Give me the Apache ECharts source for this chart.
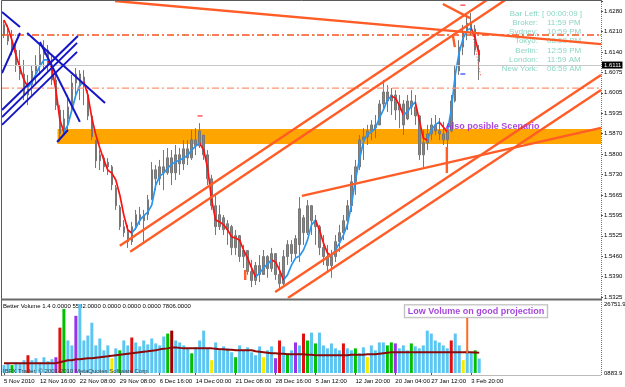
<!DOCTYPE html>
<html><head><meta charset="utf-8">
<script src="https://cdn.jsdelivr.net/npm/echarts@6/dist/echarts.min.js"></script>
<style>html,body{margin:0;padding:0;background:#fff}#c{width:625px;height:387px}</style>
</head><body><div id="c"></div>
<script>
// ---------- data ----------
const SLOTS = 150;
const xLabelIndex = [0, 9, 19, 29, 39, 48, 58, 68, 78, 88, 98, 107, 117];
const xLabelText = ['5 Nov 2010', '12 Nov 16:00', '22 Nov 08:00', '29 Nov 08:00', '6 Dec 16:00', '14 Dec 00:00', '21 Dec 08:00', '28 Dec 16:00', '5 Jan 12:00', '12 Jan 20:00', '20 Jan 04:00', '27 Jan 12:00', '3 Feb 20:00'];
const priceMin = 1.5325, priceMax = 1.6314, priceStep = 0.0955 / 14;
const priceTickLabels = ['1.5325', '1.5390', '1.5460', '1.5525', '1.5595', '1.5665', '1.5730', '1.5800', '1.5870', '1.5935', '1.6005', '1.6075', '1.6140', '1.6210', '1.6280'];
const lastPrice = 1.6111;

const opens = [1.6235,1.6200,1.6180,1.6150,1.6100,1.6070,1.6000,1.6035,1.6080,1.6100,1.6135,1.6150,1.6100,1.6050,1.5950,1.5870,1.5920,1.5960,1.6040,1.6070,
1.6030,1.6000,1.5930,1.5849,1.5780,1.5790,1.5760,1.5760,1.5690,1.5625,1.5560,1.5545,1.5510,1.5560,1.5600,1.5580,1.5600,1.5650,1.5750,1.5720,
1.5760,1.5740,1.5790,1.5740,1.5800,1.5770,1.5820,1.5790,1.5850,1.5830,1.5866,1.5800,1.5720,1.5630,1.5560,1.5590,1.5550,1.5560,1.5490,1.5530,
1.5460,1.5480,1.5410,1.5380,1.5430,1.5400,1.5460,1.5420,1.5470,1.5400,1.5370,1.5460,1.5500,1.5470,1.5500,1.5590,1.5540,1.5630,1.5580,1.5560,
1.5490,1.5460,1.5430,1.5460,1.5510,1.5540,1.5580,1.5630,1.5710,1.5760,1.5850,1.5860,1.5880,1.5900,1.5900,1.5970,1.6010,1.5980,1.6000,1.5950,
1.5970,1.5920,1.5980,1.5960,1.5930,1.5800,1.5840,1.5870,1.5900,1.5880,1.5870,1.5850,1.5880,1.5980,1.6080,1.6160,1.6210,1.6240,1.6220,1.6150];
const closes = [1.6200,1.6180,1.6150,1.6100,1.6070,1.6000,1.6035,1.6080,1.6100,1.6135,1.6150,1.6100,1.6050,1.5966,1.5870,1.5920,1.5960,1.6040,1.6070,1.6030,
1.6060,1.5930,1.5860,1.5780,1.5800,1.5760,1.5775,1.5700,1.5630,1.5560,1.5540,1.5510,1.5560,1.5600,1.5580,1.5600,1.5650,1.5750,1.5720,1.5760,
1.5740,1.5790,1.5740,1.5800,1.5770,1.5820,1.5790,1.5850,1.5830,1.5880,1.5800,1.5720,1.5630,1.5560,1.5600,1.5550,1.5570,1.5490,1.5530,1.5460,
1.5480,1.5410,1.5380,1.5430,1.5400,1.5460,1.5420,1.5470,1.5400,1.5370,1.5460,1.5500,1.5470,1.5520,1.5620,1.5540,1.5630,1.5580,1.5560,1.5490,
1.5460,1.5430,1.5460,1.5510,1.5540,1.5580,1.5630,1.5710,1.5760,1.5850,1.5860,1.5880,1.5900,1.5890,1.5970,1.6010,1.5980,1.6000,1.5950,1.5970,
1.5900,1.5980,1.5960,1.5930,1.5800,1.5840,1.5870,1.5900,1.5880,1.5870,1.5850,1.5880,1.5980,1.6080,1.6160,1.6210,1.6240,1.6220,1.6150,1.6111];
const lows = [1.6190,1.6167,1.6133,1.6077,1.6050,1.5983,1.5966,1.6000,1.6033,1.6067,1.6083,1.6077,1.6033,1.5950,1.5843,1.5866,1.5883,1.5950,1.6000,1.5983,
1.5966,1.5916,1.5849,1.5756,1.5749,1.5743,1.5733,1.5682,1.5616,1.5549,1.5526,1.5489,1.5499,1.5549,1.5566,1.5509,1.5582,1.5649,1.5682,1.5699,
1.5682,1.5733,1.5699,1.5716,1.5733,1.5749,1.5766,1.5783,1.5799,1.5823,1.5783,1.5699,1.5616,1.5532,1.5549,1.5532,1.5499,1.5465,1.5465,1.5442,
1.5422,1.5399,1.5358,1.5365,1.5375,1.5399,1.5389,1.5409,1.5382,1.5348,1.5365,1.5432,1.5442,1.5455,1.5442,1.5499,1.5532,1.5532,1.5499,1.5465,
1.5432,1.5409,1.5389,1.5442,1.5475,1.5515,1.5549,1.5609,1.5666,1.5749,1.5783,1.5833,1.5849,1.5856,1.5900,1.5950,1.5943,1.5933,1.5916,1.5889,
1.5866,1.5916,1.5933,1.5900,1.5783,1.5759,1.5816,1.5849,1.5866,1.5849,1.5833,1.5823,1.5875,1.5975,1.6067,1.6133,1.6183,1.6200,1.6133,1.6050];
const highs = [1.6250,1.6234,1.6217,1.6177,1.6150,1.6117,1.6067,1.6100,1.6133,1.6167,1.6183,1.6167,1.6133,1.6067,1.5966,1.5950,1.6000,1.6067,1.6090,1.6083,
1.6083,1.6016,1.5933,1.5849,1.5816,1.5799,1.5789,1.5766,1.5699,1.5632,1.5582,1.5566,1.5576,1.5616,1.5626,1.5616,1.5666,1.5776,1.5766,1.5783,
1.5816,1.5823,1.5816,1.5833,1.5823,1.5849,1.5849,1.5883,1.5889,1.5906,1.5866,1.5816,1.5733,1.5666,1.5632,1.5599,1.5582,1.5566,1.5549,1.5532,
1.5499,1.5482,1.5449,1.5442,1.5465,1.5482,1.5465,1.5489,1.5472,1.5442,1.5482,1.5515,1.5515,1.5532,1.5659,1.5599,1.5649,1.5632,1.5599,1.5566,
1.5532,1.5499,1.5482,1.5532,1.5566,1.5599,1.5649,1.5733,1.5783,1.5866,1.5889,1.5900,1.5916,1.5933,1.5983,1.6050,1.6033,1.6023,1.6016,1.6000,
1.5983,1.6000,1.6016,1.6000,1.5933,1.5883,1.5900,1.5923,1.5933,1.5923,1.5910,1.5900,1.6000,1.6100,1.6183,1.6234,1.6267,1.6274,1.6234,1.6167];
const maValues = [1.6250,1.6223,1.6183,1.6133,1.6090,1.6050,1.6026,1.6043,1.6070,1.6097,1.6117,1.6117,1.6090,1.6016,1.5916,1.5876,1.5900,1.5950,1.6000,1.6033,
1.6043,1.6000,1.5923,1.5866,1.5823,1.5783,1.5749,1.5739,1.5716,1.5666,1.5599,1.5549,1.5539,1.5555,1.5582,1.5596,1.5609,1.5632,1.5699,1.5729,
1.5739,1.5756,1.5769,1.5776,1.5783,1.5789,1.5799,1.5816,1.5829,1.5839,1.5816,1.5756,1.5649,1.5582,1.5576,1.5566,1.5549,1.5526,1.5522,1.5515,
1.5482,1.5455,1.5422,1.5392,1.5405,1.5422,1.5435,1.5449,1.5442,1.5415,1.5382,1.5399,1.5432,1.5455,1.5462,1.5482,1.5515,1.5566,1.5582,1.5549,
1.5505,1.5472,1.5462,1.5482,1.5505,1.5532,1.5566,1.5632,1.5716,1.5783,1.5843,1.5869,1.5876,1.5889,1.5923,1.5950,1.5983,1.5996,1.5990,1.5966,
1.5933,1.5943,1.5963,1.5976,1.5916,1.5856,1.5849,1.5883,1.5900,1.5910,1.5893,1.5876,1.5950,1.6067,1.6143,1.6190,1.6217,1.6223,1.6190,1.6133];

const volMax = 26751.9;
const volTickLabels = ['0883.9', '26751.9'];
const volumes = [3060,3820,3060,4200,3440,4970,6880,4970,5730,4200,6110,4590,5350,6110,17580,24840,12610,10700,22170,26750,
12610,14520,19490,10700,13380,8790,10700,5730,9560,8790,12610,10700,13760,11850,10320,12610,11080,13380,11470,10700,
14140,15290,16430,12610,11850,10700,9560,7640,9940,12610,16430,9560,4970,11850,8790,10320,9560,8030,6110,10700,
8790,9940,8030,6880,10320,6110,8790,10320,5730,12610,10320,7640,8790,11850,10700,15290,12610,15670,11470,15670,
10700,9560,11470,9560,8790,11470,9560,8790,9560,7640,9940,6110,10700,8790,11850,11850,10700,11850,11470,9560,
10700,8790,11470,10320,9560,10700,16430,15290,12610,11850,10700,9560,12610,15290,10700,4970,8790,8030,8790,5582];
const volTypes = ('bbgbbbrbbbbbbprgbbpb' + 'bbbbbbbybgbbrbbbbbbb' + 'bgdbbbbgbbbbybbbbbgb' +
                  'bbbbbybbprbgbpbrgbgb' + 'bbbbbrbbgbbybbbbggpb' + 'bbgbbbbbbbbbrbbybbgb').split('');
const volMA = [3820,3820,3820,3820,3820,3820,3820,3820,3820,3820,3820,3820,3820,3820,4200,4580,4970,4970,5350,5350,
5540,5730,5730,5920,6110,6300,6490,6690,6880,7070,7260,7450,7640,7830,8020,8210,8400,8600,8790,9170,
9360,9550,9930,9930,9740,9550,9550,9550,9550,9550,9550,9550,9550,9360,9170,9170,8980,8980,8790,8790,
8790,8790,8790,8400,8210,8020,7830,7640,7640,7450,7450,7260,7260,7260,7260,7260,7070,7070,6880,6880,
6880,6880,6880,6880,6880,6880,6880,7070,7070,7070,7070,7260,7260,7260,7450,7640,7830,8020,8020,8020,
8020,8020,8020,8020,8020,8020,8020,8020,8020,8020,8020,8020,8020,8020,8020,8020,8020,8020,7950,7806];

// drawn objects, in (bar index, price)
const supportZone = [[13.4, 1.5886, 149.5, 1.5836]];
const redDashDotLevel = 1.6200;
const salmonDashDotLevel = 1.6023;
const orangeLines = [
  [[27.8, 1.6314], [149.5, 1.6170]],
  [[29.0, 1.5496], [124.7, 1.6351]],
  [[31.6, 1.5476], [128.5, 1.6344]],
  [[67.9, 1.5342], [149.5, 1.6067]],
  [[71.1, 1.5322], [149.5, 1.6017]],
  [[74.6, 1.5663], [149.5, 1.5890]],
  [[109.9, 1.6304], [116.7, 1.6257]],
  [[112.4, 1.6200], [112.9, 1.6160]],
  [[110.9, 1.5826], [110.9, 1.5739]],
  [[60.4, 1.5415], [60.4, 1.5382]]
];
const blueLines = [
  [[-0.5, 1.6277], [4.0, 1.6227]],
  [[-0.5, 1.6073], [4.0, 1.6207]],
  [[5.8, 1.6207], [25.3, 1.5973]],
  [[9.0, 1.6177], [19.0, 1.5910]],
  [[-0.5, 1.5950], [18.5, 1.6197]],
  [[-0.5, 1.5926], [18.3, 1.6174]],
  [[-0.5, 1.5900], [18.3, 1.6144]],
  [[13.3, 1.5843], [16.0, 1.5883]]
];
const zigzagDotted = [[117.2, 1.6217], [119.4, 1.6060]];
const fractalsUp = [[49.1, 1.5930], [114.9, 1.6300]];
const fractalsDown = [[114.9, 1.6070]];
const scenarioNote = [[110.4, 1.5896]];
const volumeNote = [[118.2, 23900]];
const volumeArrow = [[116.0, 21400], [116.0, 7640]];

const infoLabels = ['Bar Left:', 'Broker:', 'Sydney:', 'Tokyo:', 'Berlin:', 'London:', 'New York:'];
const infoValues = ['[ 00:00:09 ]', '11:59 PM', '10:59 PM', '08:59 PM', '12:59 PM', '11:59 AM', '06:59 AM'];

// ---------- chart ----------
const FONT = 'Liberation Sans, Arial, sans-serif';
const chart = echarts.init(document.getElementById('c'));
const catLabels = [];
for (let i = 0; i < SLOTS; i++) { const k = xLabelIndex.indexOf(i); catLabels.push(k >= 0 ? xLabelText[k] : ''); }
const candleData = opens.map((o, i) => [o, closes[i], lows[i], highs[i]]);
const maPieces = [];
for (let i = 0; i < maValues.length - 1; i++) {
  maPieces.push({ gte: i, lt: i + 1, color: maValues[i + 1] < maValues[i] ? '#ff1010' : '#2a96f0' });
}
maPieces.push({ gte: maValues.length - 1, lte: SLOTS, color: '#ff1010' });
const volColors = { b: '#5cc6f2', g: '#00c000', r: '#e01010', d: '#a00000', p: '#9a32e6', y: '#f5ec00' };
const volData = volumes.map((v, i) => ({ value: v, itemStyle: { color: volColors[volTypes[i]] } }));

function seg(pts, color, width, type, z) {
  return { type: 'line', xAxisIndex: 1, yAxisIndex: 0, data: pts, symbol: 'none', silent: true,
    clip: true, lineStyle: { color: color, width: width, type: type || 'solid' }, z: z || 5 };
}

const series = [];
series.push({ type: 'custom', xAxisIndex: 1, yAxisIndex: 0, z: 1, silent: true, data: supportZone,
  encode: { x: [0, 2], y: [1, 3] },
  renderItem: (params, api) => {
    const a = api.coord([api.value(0), api.value(1)]);
    const b = api.coord([api.value(2), api.value(3)]);
    return { type: 'rect', shape: { x: a[0], y: a[1], width: b[0] - a[0], height: b[1] - a[1] }, style: { fill: '#ffa500' } };
  } });
series.push({ type: 'candlestick', xAxisIndex: 0, yAxisIndex: 0, z: 2, barWidth: 2, data: candleData,
  itemStyle: { color: '#858585', color0: '#858585', borderColor: '#777', borderColor0: '#777', borderWidth: 1 },
  markLine: { silent: true, symbol: 'none', animation: false,
    data: [{ yAxis: lastPrice }],
    lineStyle: { color: '#c8c8c8', type: 'solid', width: 1 },
    label: { position: 'end', formatter: lastPrice.toFixed(4), color: '#fff', backgroundColor: '#000', padding: [1, 1, 0, 2], fontSize: 6, fontFamily: FONT, distance: 1 } } });
const maIndex = series.length;
series.push({ type: 'line', xAxisIndex: 0, yAxisIndex: 0, z: 3, data: maValues, symbol: 'none', silent: true,
  lineStyle: { width: 1.7 } });
series.push(seg([[-0.5, redDashDotLevel], [149.5, redDashDotLevel]], '#ff5020', 1.5, [7, 3, 2, 3], 3));
series.push(seg([[-0.5, redDashDotLevel], [149.5, redDashDotLevel]], '#8a9a30', 1, [1, 12], 3));
series.push(seg([[-0.5, salmonDashDotLevel], [149.5, salmonDashDotLevel]], '#ff9473', 1.2, [7, 3, 2, 3], 3));
orangeLines.forEach(l => series.push(seg(l, '#ff5c26', 2.4)));
blueLines.forEach(l => series.push(seg(l, '#1515c8', 2)));
series.push(seg(zigzagDotted, '#ff3030', 1, [1, 2]));
series.push({ type: 'scatter', xAxisIndex: 1, yAxisIndex: 0, z: 6, data: fractalsUp, symbol: 'rect', symbolSize: [5, 1.5], itemStyle: { color: '#ff3030' }, silent: true });
series.push({ type: 'scatter', xAxisIndex: 1, yAxisIndex: 0, z: 6, data: fractalsDown, symbol: 'rect', symbolSize: [5, 1.5], itemStyle: { color: '#2040ff' }, silent: true });
series.push({ type: 'scatter', xAxisIndex: 1, yAxisIndex: 0, z: 7, data: scenarioNote, symbolSize: 1, itemStyle: { color: 'rgba(0,0,0,0)' }, silent: true,
  label: { show: true, position: 'right', distance: 0, formatter: 'Also posible Scenario', color: '#9a1bd8', fontWeight: 'bold', fontSize: 9, fontFamily: FONT } });
// volume panel
series.push({ type: 'bar', xAxisIndex: 2, yAxisIndex: 2, data: volData, barWidth: 3, silent: true, z: 2 });
series.push({ type: 'line', xAxisIndex: 2, yAxisIndex: 2, data: volMA, symbol: 'none', silent: true, z: 3, lineStyle: { color: '#8b0a0a', width: 2 } });
series.push({ type: 'line', xAxisIndex: 3, yAxisIndex: 2, data: volumeArrow, symbol: 'none', silent: true, z: 4, lineStyle: { color: '#ff6a2a', width: 2 } });
series.push({ type: 'scatter', xAxisIndex: 3, yAxisIndex: 2, data: volumeNote, symbolSize: 1, itemStyle: { color: 'rgba(0,0,0,0)' }, silent: true, z: 6,
  label: { show: true, position: 'inside', formatter: 'Low Volume on good projection', color: '#8d18d0', fontWeight: 'bold', fontSize: 9, fontFamily: FONT,
    backgroundColor: '#fff', borderColor: '#a8a8a8', borderWidth: 1, padding: [2, 3, 1, 3] } });

const graphic = [];
infoLabels.forEach((t, i) => {
  const y = 13.3 + i * 9.3;
  graphic.push({ type: 'text', x: i === 0 ? 540 : 538, y: y, z: 0, silent: true,
    style: { text: t, fill: '#8cd6c4', font: '8px ' + FONT, align: 'right', verticalAlign: 'middle', textAlign: 'right', textVerticalAlign: 'middle' } });
  graphic.push({ type: 'text', x: i === 0 ? 542 : 547, y: y, z: 0, silent: true,
    style: { text: infoValues[i], fill: '#8cd6c4', font: '8px ' + FONT, align: 'left', verticalAlign: 'middle', textAlign: 'left', textVerticalAlign: 'middle' } });
});
graphic.push({ type: 'text', x: 3, y: 306, silent: true, style: { text: 'Better Volume 1.4 0.0000 5582.0000 0.0000 0.0000 0.0000 7806.0000', fill: '#000', font: '6px ' + FONT, verticalAlign: 'middle', textVerticalAlign: 'middle' } });
graphic.push({ type: 'text', x: 3, y: 371, z: 10, silent: true, style: { text: 'IBFX Trader, © 2001-2010 MetaQuotes Software Corp.', fill: '#404040', font: '6px ' + FONT, verticalAlign: 'middle', textVerticalAlign: 'middle' } });
graphic.push({ type: 'polyline', silent: true, z: 20, shape: { points: [[601.5, 0.5], [1.5, 0.5], [1.5, 376]] }, style: { stroke: '#5a5a5a', lineWidth: 1, fill: null } });
graphic.push({ type: 'line', silent: true, z: 20, shape: { x1: 1, y1: 299.5, x2: 602, y2: 299.5 }, style: { stroke: '#6a6a6a', lineWidth: 2 } });
graphic.push({ type: 'line', silent: true, z: 20, shape: { x1: 601.5, y1: 0, x2: 601.5, y2: 376 }, style: { stroke: '#777', lineWidth: 1, lineDash: [1, 1] } });
graphic.push({ type: 'line', silent: true, z: 20, shape: { x1: 1.5, y1: 375.5, x2: 601.5, y2: 375.5 }, style: { stroke: '#777', lineWidth: 1, lineDash: [1, 1] } });

const hiddenVal = (gi) => ({ type: 'value', gridIndex: gi, min: -0.5, max: SLOTS - 0.5, show: false });
const option = {
  animation: false,
  backgroundColor: '#fff',
  grid: [
    { left: 2, right: 24, top: 1, height: 296, outerBoundsMode: 'none', containLabel: false },
    { left: 2, right: 24, top: 304, height: 69, outerBoundsMode: 'none', containLabel: false }
  ],
  xAxis: [
    { type: 'category', gridIndex: 0, data: catLabels, boundaryGap: true, show: false },
    hiddenVal(0),
    { type: 'category', gridIndex: 1, data: catLabels, boundaryGap: true,
      axisLine: { show: false },
      axisTick: { show: true, length: 2, alignWithLabel: true, interval: (i) => xLabelIndex.indexOf(i) >= 0, lineStyle: { color: '#555' } },
      axisLabel: { interval: 0, align: 'left', fontSize: 6, fontFamily: FONT, color: '#000', margin: 5 },
      splitLine: { show: false } },
    hiddenVal(1)
  ],
  yAxis: [
    { type: 'value', gridIndex: 0, min: priceMin, max: priceMax, show: false, scale: true },
    { type: 'value', gridIndex: 0, position: 'right', min: 0, max: (priceMax - priceMin) / priceStep, interval: 1,
      axisLine: { show: false }, splitLine: { show: false },
      axisTick: { show: true, length: 2, lineStyle: { color: '#555' } },
      axisLabel: { fontSize: 6, fontFamily: FONT, color: '#000', margin: 3,
        formatter: (v) => { const k = Math.round(v); return Math.abs(v - k) < 1e-6 && priceTickLabels[k] ? priceTickLabels[k] : ''; } } },
    { type: 'value', gridIndex: 1, min: 0, max: volMax, show: false },
    { type: 'value', gridIndex: 1, position: 'right', min: 0, max: 1, interval: 1,
      axisLine: { show: false }, splitLine: { show: false }, axisTick: { show: false },
      axisLabel: { fontSize: 6, fontFamily: FONT, color: '#000', margin: 3, formatter: (v) => volTickLabels[Math.round(v)] || '' } }
  ],
  visualMap: [{ show: false, type: 'piecewise', seriesIndex: maIndex, dimension: 0, pieces: maPieces, outOfRange: { color: '#ff1010' } }],
  graphic: graphic,
  series: series
};
chart.setOption(option);
</script>
</body></html>
